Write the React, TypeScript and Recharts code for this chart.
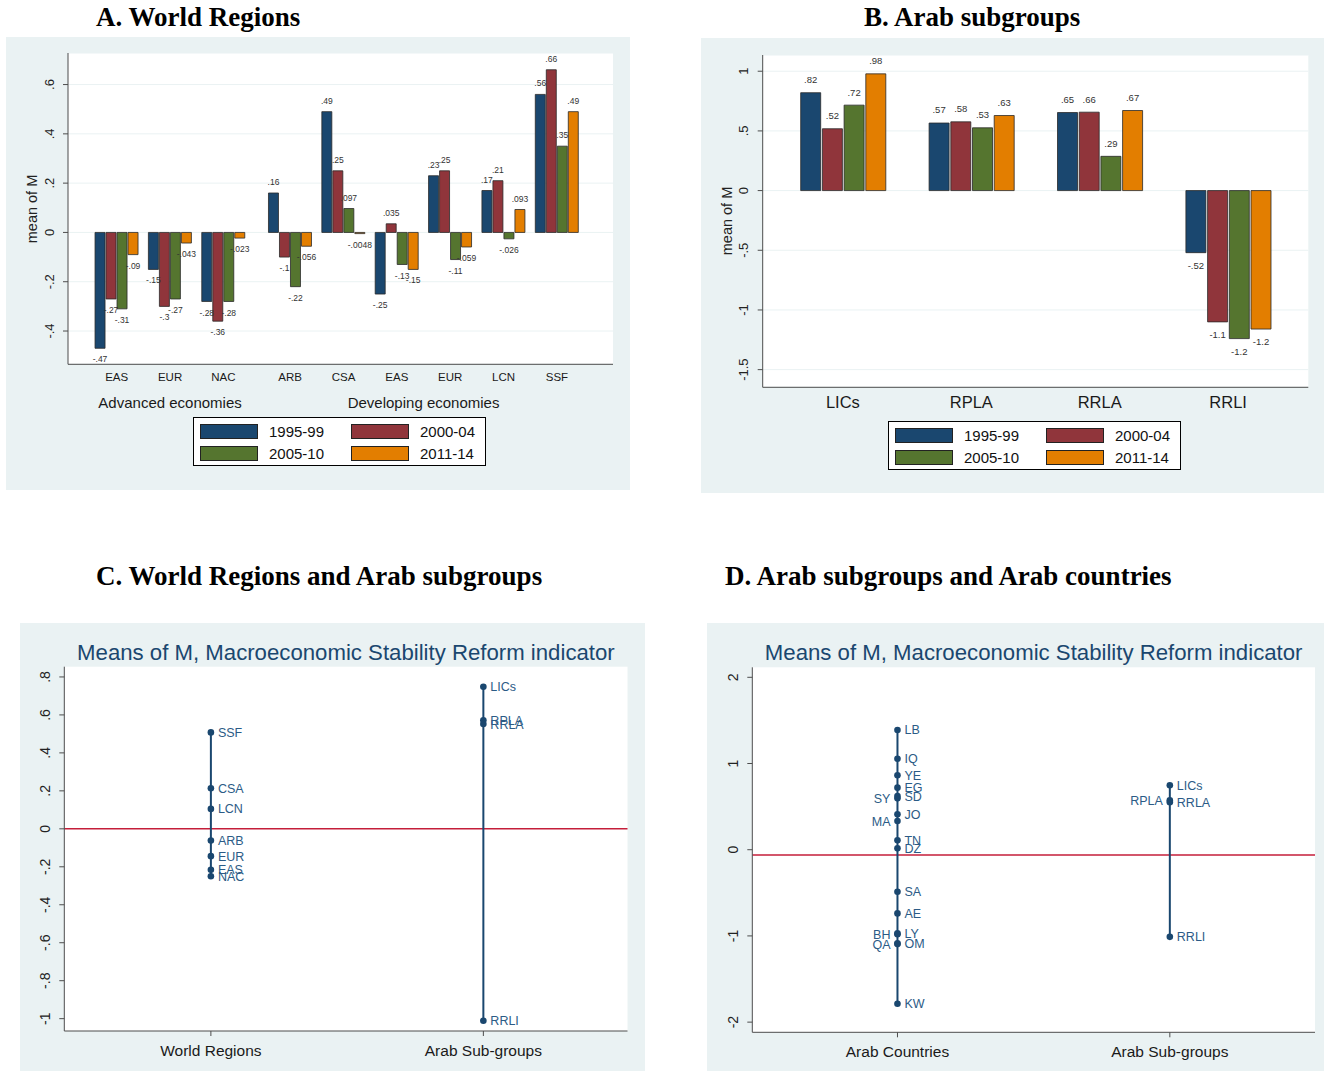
import React from 'react';
import {
  BarChart, Bar, XAxis, YAxis, CartesianGrid, LabelList,
  ScatterChart, Scatter, ReferenceLine,
} from 'recharts';

// periods shared by panels A and B
const periods = ['1995-99', '2000-04', '2005-10', '2011-14'];
const periodKeys = ['p1', 'p2', 'p3', 'p4'];

// A. World Regions
const regionNames = ['EAS', 'EUR', 'NAC', 'ARB', 'CSA', 'EAS', 'EUR', 'LCN', 'SSF'];
const regionGroups = [
  'Advanced economies', 'Advanced economies', 'Advanced economies',
  'Developing economies', 'Developing economies', 'Developing economies',
  'Developing economies', 'Developing economies', 'Developing economies',
];
const region1995 = [-0.47, -0.15, -0.28, 0.16, 0.49, -0.25, 0.23, 0.17, 0.56];
const region2000 = [-0.27, -0.3, -0.36, -0.1, 0.25, 0.035, 0.25, 0.21, 0.66];
const region2005 = [-0.31, -0.27, -0.28, -0.22, 0.097, -0.13, -0.11, -0.026, 0.35];
const region2011 = [-0.09, -0.043, -0.023, -0.056, -0.0048, -0.15, -0.059, 0.093, 0.49];
const ticksA = [-0.4, -0.2, 0, 0.2, 0.4, 0.6];

// B. Arab subgroups
const subgroupNames = ['LICs', 'RPLA', 'RRLA', 'RRLI'];
const sub1995 = [0.82, 0.566, 0.654, -0.52];
const sub2000 = [0.518, 0.576, 0.657, -1.1];
const sub2005 = [0.716, 0.526, 0.287, -1.24];
const sub2011 = [0.978, 0.629, 0.671, -1.16];
const ticksB = [-1.5, -1, -0.5, 0, 0.5, 1];

// C / D. means over the whole period
const regionMeanNames = ['SSF', 'CSA', 'LCN', 'ARB', 'EUR', 'EAS', 'NAC'];
const regionMeans = [0.508, 0.214, 0.105, -0.062, -0.144, -0.216, -0.25];
const subgroupMeans = [0.748, 0.572, 0.552, -1.011];
const countryNames = ['LB', 'IQ', 'YE', 'EG', 'SD', 'SY', 'JO', 'MA', 'TN', 'DZ', 'SA', 'AE', 'LY', 'BH', 'OM', 'QA', 'KW'];
const countryMeans = [1.389, 1.056, 0.863, 0.72, 0.623, 0.596, 0.41, 0.333, 0.109, 0.016, -0.487, -0.739, -0.971, -0.98, -1.087, -1.095, -1.787];
const ticksC = [-1, -0.8, -0.6, -0.4, -0.2, 0, 0.2, 0.4, 0.6, 0.8];
const ticksD = [-2, -1, 0, 1, 2];
const leftLabelsD = ['SY', 'MA', 'BH', 'QA', 'RPLA'];

const NAVY = '#1a476f';
const COLORS = [NAVY, '#90353b', '#55752f', '#e37e00'];
const BG = '#eaf2f3';
const RED = '#c41e3a';
const AXIS = '#4d4d4d';
const SANS = '"Liberation Sans", Arial, sans-serif';
const SERIF = '"Liberation Serif", "Times New Roman", serif';

const fmt = (v: number) => String(Number(v.toPrecision(2))).replace(/^(-?)0\./, '$1.');

// x positions for panel A: a small extra gap between the two groups
let gapShift = 0;
const posA = regionNames.map((_, i) => {
  if (i > 0 && regionGroups[i] !== regionGroups[i - 1]) gapShift += 0.25;
  return i + gapShift;
});

const dataA = regionNames.map((name, i) => ({
  pos: posA[i], name,
  p1: region1995[i], p2: region2000[i], p3: region2005[i], p4: region2011[i],
}));
const dataB = subgroupNames.map((name, i) => ({
  name, p1: sub1995[i], p2: sub2000[i], p3: sub2005[i], p4: sub2011[i],
}));

const byY = (a: any, b: any) => b.y - a.y;
const regionPts = regionMeanNames.map((name, i) => ({ name, x: 1, y: regionMeans[i] })).sort(byY);
const subgroupPts = subgroupNames.map((name, i) => ({ name, x: 2, y: subgroupMeans[i] })).sort(byY);
const countryPts = countryNames.map((name, i) => ({ name, x: 1, y: countryMeans[i] })).sort(byY);
const arabMean = regionMeans[regionMeanNames.indexOf('ARB')];

const yTick = (fs: number) => (p: any) => {
  const bx = p.x - 14 + 0.358 * fs;
  return (
    <text x={bx} y={p.y} transform={`rotate(-90, ${bx}, ${p.y})`} textAnchor="middle"
      fontSize={fs} fill="#222">{fmt(p.payload.value)}</text>
  );
};

const xTick = (labels: string[], fs: number) => (p: any) => (
  <text x={p.x} y={p.y} dy="0.71em" textAnchor="middle" fontSize={fs} fill="#1a1a1a">
    {labels[p.index]}
  </text>
);

// category ticks plus a group caption centred under each group of ticks
const groupedTick = (labels: string[], groups: string[], fs: number, gfs: number, gdy: number) => {
  const firstX: Record<string, number> = {};
  return (p: any) => {
    const i = p.index;
    const g = groups[i];
    if (i === 0 || groups[i - 1] !== g) firstX[g] = p.x;
    const isLast = i === groups.length - 1 || groups[i + 1] !== g;
    return (
      <g>
        <text x={p.x} y={p.y} dy="0.71em" textAnchor="middle" fontSize={fs} fill="#1a1a1a">{labels[i]}</text>
        {isLast && (
          <text x={(firstX[g] + p.x) / 2} y={p.y + gdy} textAnchor="middle" fontSize={gfs} fill="#1a1a1a">{g}</text>
        )}
      </g>
    );
  };
};

const barLabel = (fs: number, gap: number) => (p: any) => {
  const vb = p.viewBox ?? p;
  const v = Number(p.value);
  const top = Math.min(vb.y, vb.y + vb.height);
  const bottom = Math.max(vb.y, vb.y + vb.height);
  const cy = v >= 0 ? top - gap : bottom + gap;
  return (
    <text x={vb.x + vb.width / 2} y={cy + 0.36 * fs} textAnchor="middle" fontSize={fs} fill="#333">
      {fmt(v)}
    </text>
  );
};

const dot = (leftSet: string[]) => (p: any) => {
  const name = p.payload?.name ?? p.name;
  const left = leftSet.includes(name);
  return (
    <g>
      <circle cx={p.cx} cy={p.cy} r={3.3} fill={NAVY} />
      <text x={left ? p.cx - 7 : p.cx + 7} y={p.cy} dy="0.36em" textAnchor={left ? 'end' : 'start'}
        fontSize={12.5} fill="#2b5b86">{name}</text>
    </g>
  );
};

const PeriodLegend = ({ left, top }: { left: number; top: number }) => (
  <div style={{
    position: 'absolute', left, top, width: 293, height: 49, boxSizing: 'border-box',
    border: '1px solid #000', background: '#fff', fontFamily: SANS, fontSize: 15,
  }}>
    {periods.map((p, i) => (
      <div key={p} style={{
        position: 'absolute', left: 6 + (i % 2) * 151, top: 6 + Math.floor(i / 2) * 22,
        display: 'flex', alignItems: 'center', height: 15,
      }}>
        <span style={{ width: 58, height: 15, boxSizing: 'border-box', border: '1px solid #222', background: COLORS[i] }} />
        <span style={{ marginLeft: 11, lineHeight: '15px', color: '#111' }}>{p}</span>
      </div>
    ))}
  </div>
);

const Title = ({ left, top, children }: any) => (
  <div style={{
    position: 'absolute', left, top, fontFamily: SERIF, fontWeight: 'bold', fontSize: 27,
    lineHeight: '27px', whiteSpace: 'nowrap', color: '#000',
  }}>{children}</div>
);

const YLabel = ({ cx, cy }: { cx: number; cy: number }) => (
  <div style={{
    position: 'absolute', left: cx, top: cy, transform: 'translate(-50%, -50%) rotate(-90deg)',
    fontFamily: SANS, fontSize: 14.5, whiteSpace: 'nowrap', color: '#222', lineHeight: '16px',
  }}>mean of M</div>
);

const ChartTitle = ({ left, width, top }: { left: number; width: number; top: number }) => (
  <div style={{
    position: 'absolute', left, width, top, textAlign: 'center', fontFamily: SANS, fontSize: 22.2,
    lineHeight: '22px', color: NAVY, whiteSpace: 'nowrap',
  }}>Means of M, Macroeconomic Stability Reform indicator</div>
);

const panel = (left: number, top: number, width: number, height: number): React.CSSProperties => ({
  position: 'absolute', left, top, width, height, background: BG,
});

export default function App() {
  return (
    <div style={{ position: 'absolute', left: 0, top: 0, width: 1324, height: 1071, background: '#fff', fontFamily: SANS }}>
      <Title left={96} top={4}>A. World Regions</Title>
      <Title left={864} top={4}>B. Arab subgroups</Title>
      <Title left={96} top={563}>C. World Regions and Arab subgroups</Title>
      <Title left={725} top={563}>D. Arab subgroups and Arab countries</Title>

      {/* A */}
      <div style={panel(6, 37, 624, 453)}>
        <BarChart width={624} height={453} data={dataA} barGap={1}
          margin={{ top: 16, right: 17, left: 0, bottom: 100.7 }}>
          <CartesianGrid vertical={false} stroke={BG} fill="#fff" />
          <XAxis type="number" dataKey="pos" domain={[-0.913, 9.3]} ticks={posA} allowDataOverflow interval={0}
            height={25} tickLine={false} tickSize={0} tickMargin={9} stroke={AXIS}
            tick={groupedTick(regionNames, regionGroups, 11.5, 15, 34.7)} />
          <YAxis type="number" domain={[-0.535, 0.728]} ticks={ticksA} allowDataOverflow interval={0}
            width={62} tickSize={5} tickMargin={0} stroke={AXIS} tick={yTick(13)} />
          {periodKeys.map((k, i) => (
            <Bar key={k} dataKey={k} fill={COLORS[i]} stroke="#2a2a2a" strokeWidth={0.8}
              barSize={10} isAnimationActive={false}>
              <LabelList dataKey={k} content={barLabel(8.5, 11)} />
            </Bar>
          ))}
        </BarChart>
        <PeriodLegend left={187} top={380} />
      </div>
      <YLabel cx={32} cy={208.5} />

      {/* B */}
      <div style={panel(701, 38, 623, 455)}>
        <BarChart width={623} height={455} data={dataB} barGap={1.7}
          margin={{ top: 17, right: 15.7, left: 0, bottom: 75.7 }}>
          <CartesianGrid vertical={false} stroke={BG} fill="#fff" />
          <XAxis dataKey="name" padding={{ left: 16, right: 16 }} interval={0} height={30}
            tickLine={false} tickSize={0} tickMargin={9} stroke={AXIS}
            tick={xTick(subgroupNames, 16.5)} />
          <YAxis type="number" domain={[-1.648, 1.136]} ticks={ticksB} allowDataOverflow interval={0}
            width={61.7} tickSize={5} tickMargin={0} stroke={AXIS} tick={yTick(13)} />
          {periodKeys.map((k, i) => (
            <Bar key={k} dataKey={k} fill={COLORS[i]} stroke="#2a2a2a" strokeWidth={0.8}
              barSize={20} isAnimationActive={false}>
              <LabelList dataKey={k} content={barLabel(9.5, 13)} />
            </Bar>
          ))}
        </BarChart>
        <PeriodLegend left={187} top={383} />
      </div>
      <YLabel cx={727} cy={221} />

      {/* C */}
      <div style={panel(20, 623, 625, 448)}>
        <ScatterChart width={625} height={448} margin={{ top: 43.7, right: 17.5, left: 0, bottom: 0 }}>
          <CartesianGrid horizontal={false} vertical={false} fill="#fff" />
          <XAxis type="number" dataKey="x" domain={[0.462, 2.529]} ticks={[1, 2]} allowDataOverflow interval={0}
            height={40} tickSize={5} tickMargin={8.5} stroke={AXIS}
            tick={xTick(['World Regions', 'Arab Sub-groups'], 15.5)} />
          <YAxis type="number" dataKey="y" domain={[-1.065, 0.854]} ticks={ticksC} allowDataOverflow interval={0}
            width={44.3} tickSize={5} tickMargin={0} stroke={AXIS} tick={yTick(14)} />
          <ReferenceLine y={0} stroke={RED} strokeWidth={1.5} />
          <Scatter data={regionPts} fill={NAVY} line={{ stroke: NAVY, strokeWidth: 2 }}
            shape={dot([])} isAnimationActive={false} />
          <Scatter data={subgroupPts} fill={NAVY} line={{ stroke: NAVY, strokeWidth: 2 }}
            shape={dot([])} isAnimationActive={false} />
        </ScatterChart>
        <ChartTitle left={44.3} width={563.2} top={19} />
      </div>

      {/* D */}
      <div style={panel(707, 623, 617, 448)}>
        <ScatterChart width={617} height={448} margin={{ top: 44.3, right: 9, left: 0, bottom: 0 }}>
          <CartesianGrid horizontal={false} vertical={false} fill="#fff" />
          <XAxis type="number" dataKey="x" domain={[0.467, 2.533]} ticks={[1, 2]} allowDataOverflow interval={0}
            height={38.7} tickSize={5} tickMargin={8.5} stroke={AXIS}
            tick={xTick(['Arab Countries', 'Arab Sub-groups'], 15.5)} />
          <YAxis type="number" dataKey="y" domain={[-2.118, 2.116]} ticks={ticksD} allowDataOverflow interval={0}
            width={45.3} tickSize={5} tickMargin={0} stroke={AXIS} tick={yTick(14)} />
          <ReferenceLine y={arabMean} stroke={RED} strokeWidth={1.5} />
          <Scatter data={countryPts} fill={NAVY} line={{ stroke: NAVY, strokeWidth: 2 }}
            shape={dot(leftLabelsD)} isAnimationActive={false} />
          <Scatter data={subgroupPts} fill={NAVY} line={{ stroke: NAVY, strokeWidth: 2 }}
            shape={dot(leftLabelsD)} isAnimationActive={false} />
        </ScatterChart>
        <ChartTitle left={45.3} width={562.7} top={19} />
      </div>
    </div>
  );
}
